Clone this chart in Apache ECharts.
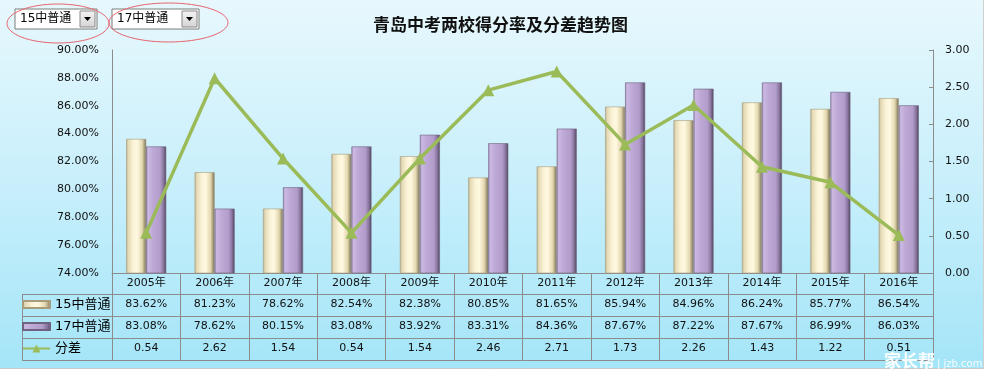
<!DOCTYPE html>
<html>
<head>
<meta charset="utf-8">
<script src="https://cdn.jsdelivr.net/npm/echarts@6/dist/echarts.min.js"></script>
<style>
html,body{margin:0;padding:0;background:#ffffff;}
#chart{width:988px;height:379px;}
</style>
</head>
<body>
<div id="chart"></div>
<script>
// ---- data ----
var categories = ['2005年','2006年','2007年','2008年','2009年','2010年','2011年','2012年','2013年','2014年','2015年','2016年'];
var school15 = [83.62,81.23,78.62,82.54,82.38,80.85,81.65,85.94,84.96,86.24,85.77,86.54];
var school17 = [83.08,78.62,80.15,83.08,83.92,83.31,84.36,87.67,87.22,87.67,86.99,86.03];
var scoreDiff = [0.54,2.62,1.54,0.54,1.54,2.46,2.71,1.73,2.26,1.43,1.22,0.51];
var seriesNames = ['15中普通','17中普通','分差'];
var titleText = '青岛中考两校得分率及分差趋势图';

var FONT = 'DejaVu Sans, "Noto Sans CJK SC", sans-serif';
var CJK = '"Noto Sans CJK SC", "DejaVu Sans", sans-serif';
var GRID_LINE = '#8c8c8c';

var chart = echarts.init(document.getElementById('chart'), null, {renderer:'canvas'});

var creamGrad = new echarts.graphic.LinearGradient(0,0,1,0,[
  {offset:0,color:'#b8ad8a'},{offset:0.1,color:'#e4d9b5'},{offset:0.35,color:'#fbf3d7'},
  {offset:0.55,color:'#fff9e1'},{offset:0.8,color:'#e3d7ae'},{offset:0.92,color:'#a3987a'},{offset:1,color:'#6c6650'}]);
var purpleGrad = new echarts.graphic.LinearGradient(0,0,1,0,[
  {offset:0,color:'#a08cb8'},{offset:0.1,color:'#cbb9e2'},{offset:0.35,color:'#bda8d6'},
  {offset:0.7,color:'#b19cca'},{offset:0.86,color:'#8a779f'},{offset:1,color:'#4d4358'}]);

function rowAxis(data, offset, tickLen, margin){
  return {
    type:'category', gridIndex:0, position:'bottom', offset:offset, data:data,
    boundaryGap:true,
    axisLine:{show:true, lineStyle:{color:GRID_LINE, width:1}},
    axisTick:{show:true, interval:0, length:tickLen, lineStyle:{color:GRID_LINE, width:1}},
    axisLabel:{show:data!==null, interval:0, margin:margin, color:'#111', fontSize:11, fontFamily:FONT},
    splitLine:{show:false}
  };
}

function dropdown(x, w, label){
  return {
    type:'group', x:x, y:9, children:[
      {type:'rect', shape:{x:0,y:0,width:w,height:20}, style:{fill:'#ffffff', stroke:'#7d7d7d', lineWidth:1}},
      {type:'text', style:{x:5, y:10, text:label, fill:'#000', font:'12px ' + FONT, verticalAlign:'middle'}},
      {type:'rect', shape:{x:w-17,y:2,width:15,height:16},
        style:{fill:new echarts.graphic.LinearGradient(0,0,0,1,[{offset:0,color:'#f4f4f4'},{offset:1,color:'#d4d4d4'}]), stroke:'#8a8a8a', lineWidth:1}},
      {type:'polygon', shape:{points:[[w-13,8],[w-6,8],[w-9.5,12]]}, style:{fill:'#000'}}
    ]
  };
}

var option = {
  animation:false,
  title:{
    text:titleText, left:368, top:11,
    textStyle:{fontSize:17, fontWeight:'bold', color:'#111', fontFamily:CJK}
  },
  legend:[
    {data:[{name:seriesNames[0], icon:'rect'}], left:22, top:298, padding:0, itemWidth:27, itemHeight:7,
      textStyle:{fontSize:13, color:'#000', fontFamily:FONT}},
    {data:[{name:seriesNames[1], icon:'rect'}], left:22, top:320, padding:0, itemWidth:27, itemHeight:7,
      textStyle:{fontSize:13, color:'#000', fontFamily:FONT}},
    {data:[seriesNames[2]], left:22, top:342, padding:0, itemWidth:27, itemHeight:10,
      textStyle:{fontSize:13, color:'#000', fontFamily:FONT}}
  ],
  grid:{left:112, right:55, top:50, bottom:106, containLabel:false},
  xAxis:[
    rowAxis(categories, 0, 21, 5),
    rowAxis(school15.map(function(v){return v.toFixed(2)+'%';}), 21, 22, 5),
    rowAxis(school17.map(function(v){return v.toFixed(2)+'%';}), 43, 22, 5),
    rowAxis(scoreDiff.map(function(v){return v.toFixed(2);}), 65, 22, 5),
    {type:'category', position:'bottom', offset:87, data:categories,
      axisLine:{show:true, lineStyle:{color:GRID_LINE}}, axisTick:{show:false}, axisLabel:{show:false}}
  ],
  yAxis:[
    {type:'value', min:74, max:90, interval:2, position:'left',
      axisLine:{show:true, lineStyle:{color:GRID_LINE}}, axisTick:{show:false},
      splitLine:{show:false},
      axisLabel:{margin:13, color:'#111', fontSize:11, fontFamily:FONT,
        formatter:function(v){return v.toFixed(2)+'%';}}},
    {type:'value', min:0, max:3, interval:0.5, position:'right',
      axisLine:{show:true, lineStyle:{color:GRID_LINE}},
      axisTick:{show:true, inside:true, length:4, lineStyle:{color:GRID_LINE}},
      splitLine:{show:false},
      axisLabel:{margin:12, color:'#111', fontSize:11, fontFamily:FONT,
        formatter:function(v){return v.toFixed(2);}}}
  ],
  series:[
    {name:seriesNames[0], type:'bar', xAxisIndex:0, yAxisIndex:0, data:school15,
      barWidth:20, barGap:'0%',
      itemStyle:{color:creamGrad, borderColor:'#a79c7c', borderWidth:0.6}},
    {name:seriesNames[1], type:'bar', xAxisIndex:0, yAxisIndex:0, data:school17,
      barWidth:20, barGap:'0%',
      itemStyle:{color:purpleGrad, borderColor:'#6f6180', borderWidth:0.6}},
    {name:seriesNames[2], type:'line', xAxisIndex:0, yAxisIndex:1, data:scoreDiff,
      symbol:'triangle', symbolSize:12, z:5,
      lineStyle:{color:'#9bbb59', width:3.5},
      itemStyle:{color:'#9bbb59'}}
  ],
  graphic:[
    {type:'rect', z:-100, silent:true, shape:{x:0,y:0,width:983,height:368},
      style:{fill:new echarts.graphic.LinearGradient(0,0,0,1,[{offset:0,color:'#e7f8fd'},{offset:0.5,color:'#c8effb'},{offset:1,color:'#a4e5f8'}])}},
    {type:'line', silent:true, shape:{x1:0,y1:368.5,x2:983,y2:368.5}, style:{stroke:'#c9c9c9', lineWidth:1}},
    {type:'line', silent:true, shape:{x1:983.5,y1:0,x2:983.5,y2:369}, style:{stroke:'#d0d0d0', lineWidth:1}},
    // left column of the data table
    {type:'line', silent:true, shape:{x1:22,y1:294.5,x2:112,y2:294.5}, style:{stroke:GRID_LINE, lineWidth:1}},
    {type:'line', silent:true, shape:{x1:22,y1:316.5,x2:112,y2:316.5}, style:{stroke:GRID_LINE, lineWidth:1}},
    {type:'line', silent:true, shape:{x1:22,y1:338.5,x2:112,y2:338.5}, style:{stroke:GRID_LINE, lineWidth:1}},
    {type:'line', silent:true, shape:{x1:22,y1:360.5,x2:112,y2:360.5}, style:{stroke:GRID_LINE, lineWidth:1}},
    {type:'line', silent:true, shape:{x1:22.5,y1:294,x2:22.5,y2:361}, style:{stroke:GRID_LINE, lineWidth:1}},
    dropdown(15, 82, seriesNames[0]),
    dropdown(112, 87, seriesNames[1]),
    {type:'ellipse', silent:true, shape:{cx:58, cy:23.5, rx:51, ry:19.5}, style:{fill:'none', stroke:'#e8646c', lineWidth:1}},
    {type:'ellipse', silent:true, shape:{cx:168.5, cy:22.5, rx:59.5, ry:19.5}, style:{fill:'none', stroke:'#e8646c', lineWidth:1}},
    {type:'text', silent:true, z:50, style:{x:884, y:352, text:'家长帮', fill:'rgba(255,255,255,0.95)', font:'bold 17px ' + CJK}},
    {type:'text', silent:true, z:50, style:{x:937, y:359, text:'| jzb.com', fill:'rgba(255,255,255,0.9)', font:'10px ' + FONT}}
  ]
};
chart.setOption(option);
</script>
</body>
</html>
